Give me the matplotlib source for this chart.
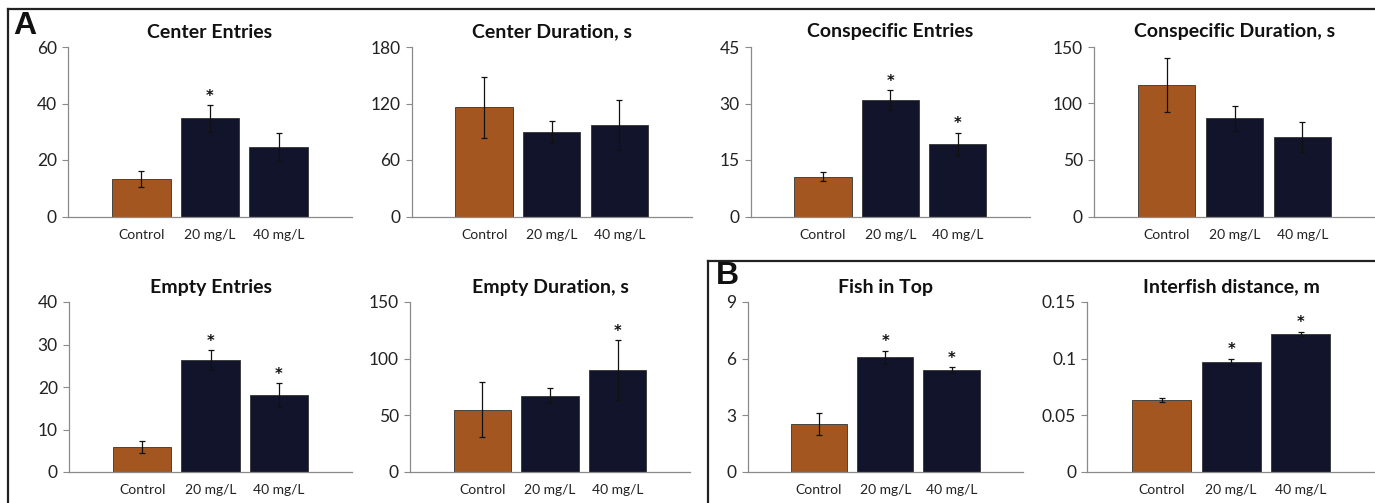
import matplotlib
matplotlib.use("Agg")
import matplotlib.pyplot as plt
from matplotlib.lines import Line2D

plt.rcParams['font.family'] = ['Lato', 'DejaVu Sans']

groups = ["Control", "20 mg/L", "40 mg/L"]

titles = ["Center Entries", "Center Duration, s", "Conspecific Entries", "Conspecific Duration, s",
          "Empty Entries", "Empty Duration, s", "Fish in Top", "Interfish distance, m"]

center_entries = [13.2, 34.7, 24.5]
center_entries_err = [2.8, 4.7, 5.0]
center_duration = [115.9, 90.0, 97.5]
center_duration_err = [32.4, 11.7, 26.5]
consp_entries = [10.6, 30.9, 19.2]
consp_entries_err = [1.3, 2.6, 3.1]
consp_duration = [116.3, 87.0, 70.3]
consp_duration_err = [24.0, 11.0, 13.4]
empty_entries = [5.9, 26.3, 18.1]
empty_entries_err = [1.5, 2.3, 2.8]
empty_duration = [55.0, 67.4, 89.7]
empty_duration_err = [24.4, 6.4, 26.5]
fish_top = [2.54, 6.07, 5.40]
fish_top_err = [0.57, 0.36, 0.16]
interfish = [0.0636, 0.0972, 0.1219]
interfish_err = [0.0018, 0.0027, 0.0018]

values = [center_entries, center_duration, consp_entries, consp_duration,
          empty_entries, empty_duration, fish_top, interfish]
errors = [center_entries_err, center_duration_err, consp_entries_err, consp_duration_err,
          empty_entries_err, empty_duration_err, fish_top_err, interfish_err]
significant = [[False, True, False], [False, False, False], [False, True, True], [False, False, False],
               [False, True, True], [False, False, True], [False, True, True], [False, True, True]]
yticks = [[0, 20, 40, 60], [0, 60, 120, 180], [0, 15, 30, 45], [0, 50, 100, 150],
          [0, 10, 20, 30, 40], [0, 50, 100, 150], [0, 3, 6, 9], [0, 0.05, 0.1, 0.15]]
yticklabels = [None, None, None, None, None, None, None, ["0", "0.05", "0.1", "0.15"]]

W, H = 1375, 503
fig = plt.figure(figsize=(W / 100, H / 100), dpi=100)

# axes boxes in pixels: (left, right, top, bottom)
boxes = [(68, 352, 47, 216.5), (411.7, 691.7, 47, 216.5), (750.7, 1030, 47, 216.5), (1094, 1375, 47, 216.5),
         (69, 352, 302, 472), (410, 690, 302, 472), (747.7, 1022.7, 302, 472), (1087.3, 1375, 302, 472)]

orange = '#A3561F'
navy = '#11142A'
colors = [orange, navy, navy]
axis_gray = '#8a8a8a'

for i in range(8):
    L, R, T, B = boxes[i]
    ax = fig.add_axes([L / W, 1 - B / H, (R - L) / W, (B - T) / H])
    x = list(range(3))
    ax.bar(x, values[i], width=0.85, color=colors, edgecolor='#333333', linewidth=0.6, zorder=2)
    ax.errorbar(x, values[i], yerr=errors[i], fmt='none', ecolor='#111111', elinewidth=0.9,
                capsize=2.2, capthick=0.9, zorder=3)
    for j in range(3):
        if significant[i][j]:
            ax.annotate('*', (x[j], values[i][j] + errors[i][j]), xytext=(0, 1),
                        textcoords='offset points', ha='center', va='bottom',
                        fontsize=10.5, fontweight='bold', color='#111111',
                        family=['DejaVu Sans'])
    ax.set_xlim(-1.07, 3.07)
    ax.set_ylim(yticks[i][0], yticks[i][-1])
    ax.set_yticks(yticks[i])
    if yticklabels[i] is not None:
        ax.set_yticklabels(yticklabels[i])
    ax.set_xticks(x)
    ax.set_xticklabels(groups)
    ax.tick_params(axis='x', length=0, pad=9, labelsize=10, labelcolor='#222222')
    ax.tick_params(axis='y', length=4, width=0.8, color=axis_gray, pad=4, labelsize=12.5,
                   labelcolor='#222222', direction='out')
    for s in ['top', 'right']:
        ax.spines[s].set_visible(False)
    for s in ['left', 'bottom']:
        ax.spines[s].set_color(axis_gray)
        ax.spines[s].set_linewidth(0.9)
    ax.patch.set_alpha(0)
    ax.text(1, 1.0 + 15 / (B - T), titles[i], transform=ax.get_xaxis_transform(),
            ha='center', va='center', fontsize=14, fontweight='bold', color='#111111')

frame_kw = dict(transform=fig.transFigure, color='#222222', linewidth=1.6)
# Panel A frame (top and left visible)
fig.add_artist(Line2D([8 / W, 1], [1 - 9 / H, 1 - 9 / H], **frame_kw))
fig.add_artist(Line2D([8 / W, 8 / W], [1 - 9 / H, 0], **frame_kw))
# Panel B frame
fig.add_artist(Line2D([708 / W, 1], [1 - 261 / H, 1 - 261 / H], **frame_kw))
fig.add_artist(Line2D([708 / W, 708 / W], [1 - 261 / H, 0], **frame_kw))

fig.text(13 / W, 1 - 26.5 / H, "A", fontsize=23, fontweight='bold', ha='left', va='center',
         family=['Liberation Sans', 'DejaVu Sans'], color='#111111')
fig.text(716 / W, 1 - 276 / H, "B", fontsize=23, fontweight='bold', ha='left', va='center',
         family=['Liberation Sans', 'DejaVu Sans'], color='#111111')

fig.savefig("out.png", dpi=100)
